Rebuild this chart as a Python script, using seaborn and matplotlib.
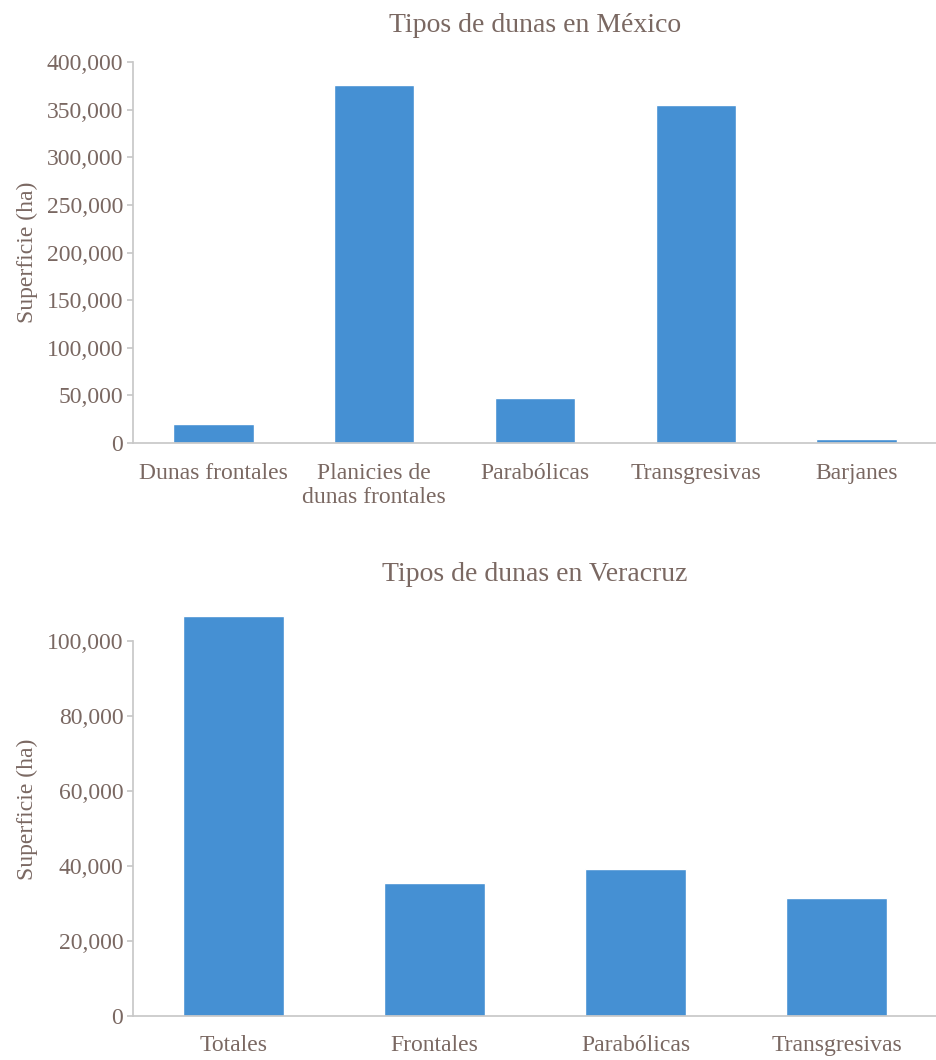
import matplotlib
matplotlib.use('Agg')
import matplotlib.pyplot as plt
import matplotlib.ticker as mticker
import pandas as pd
import seaborn as sns

sns.set_theme(style='white')
plt.rcParams['font.family'] = ['Liberation Serif', 'DejaVu Serif']

# datos
mexico_tipos = ['Dunas frontales', 'Planicies de\ndunas frontales', 'Parabólicas',
                'Transgresivas', 'Barjanes']
mexico_sup = [20000, 375500, 47000, 355000, 4200]

veracruz_tipos = ['Totales', 'Frontales', 'Parabólicas', 'Transgresivas']
veracruz_sup = [106700, 35500, 39200, 31500]

bar_color = '#4590d3'
text_color = '#7a6862'
axis_color = '#c8c8c8'

fig = plt.figure(figsize=(9.37, 10.6), dpi=100)
ax1 = fig.add_axes([0.142, 0.582, 0.858, 0.3594])
ax2 = fig.add_axes([0.142, 0.0415, 0.858, 0.3892])


def style_axes(ax, ymax, ytop, step, title, title_pad):
    ax.set_ylim(0, ymax)
    ax.yaxis.set_major_locator(mticker.MultipleLocator(step))
    ax.yaxis.set_major_formatter(mticker.FuncFormatter(lambda v, p: f'{int(v):,}'))
    ax.set_xlabel('')
    ax.set_ylabel('Superficie (ha)', fontsize=17, color=text_color, labelpad=6)
    ax.set_title(title, fontsize=20, color=text_color, pad=title_pad)
    for s in ['top', 'right']:
        ax.spines[s].set_visible(False)
    ax.spines['left'].set_color(axis_color)
    ax.spines['bottom'].set_color(axis_color)
    ax.spines['left'].set_bounds(0, ytop)
    ax.tick_params(axis='y', left=True, length=4, color=axis_color,
                   labelsize=17, labelcolor=text_color, pad=3)
    ax.tick_params(axis='x', bottom=False, labelsize=17, labelcolor=text_color, pad=8)
    ax.set_ylim(0, ymax)


df1 = pd.DataFrame({'tipo': mexico_tipos, 'sup': mexico_sup})
sns.barplot(data=df1, x='tipo', y='sup', color=bar_color, saturation=1,
            width=0.5, ax=ax1)
style_axes(ax1, 400000, 400000, 50000, 'Tipos de dunas en México', 22)

df2 = pd.DataFrame({'tipo': veracruz_tipos, 'sup': veracruz_sup})
sns.barplot(data=df2, x='tipo', y='sup', color=bar_color, saturation=1,
            width=0.5, ax=ax2)
style_axes(ax2, 110000, 100000, 20000, 'Tipos de dunas en Veracruz', 16)

fig.savefig('out.png', dpi=100, facecolor='white')
